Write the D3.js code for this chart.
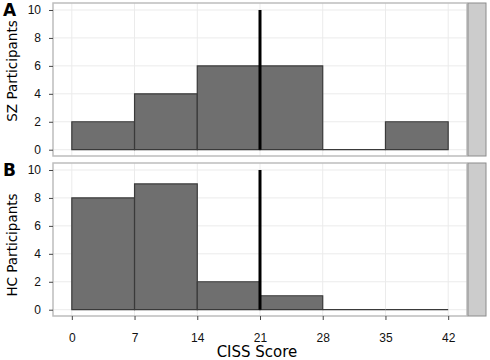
<!DOCTYPE html>
<html>
<head>
<meta charset="utf-8">
<style>
  body { margin: 0; background: #fff; }
  svg { font-family: 'DejaVu Sans', sans-serif; }
  .domain { display: none; }
</style>
</head>
<body>
<svg width="490" height="360"></svg>
<script src="https://d3js.org/d3.v7.min.js"></script>
<script>
// bin edges and counts
let binEdges = [0, 7, 14, 21, 28, 35, 42];
let szCounts = [2, 4, 6, 6, 0, 2];
let hcCounts = [8, 9, 2, 1, 0, 0];
let xTicks = [0, 7, 14, 21, 28, 35, 42];
let yTicks = [0, 2, 4, 6, 8, 10];
let cutoff = 21;

let panels = [
  { tag: 'A', title: 'SZ Participants', counts: szCounts, top: 3, mid: 71 },
  { tag: 'B', title: 'HC Participants', counts: hcCounts, top: 163, mid: 245 }
];

let svg = d3.select('svg');
let left = 53, right = 467, panelH = 153;

let x = d3.scaleLinear()
  .domain([-2.1, 44.1])
  .range([left, right]);

panels.forEach((p, i) => {
  let y = d3.scaleLinear()
    .domain([-0.45, 10.5])
    .range([p.top + panelH, p.top]);

  let g = svg.append('g');

  g.append('rect')
    .attr('x', left).attr('y', p.top)
    .attr('width', right - left).attr('height', panelH)
    .attr('fill', '#fff');

  // grid
  g.selectAll('.gx').data(xTicks).join('line')
    .attr('x1', d => x(d)).attr('x2', d => x(d))
    .attr('y1', p.top).attr('y2', p.top + panelH)
    .attr('stroke', '#ebebeb').attr('stroke-width', 1);
  g.selectAll('.gy').data(yTicks).join('line')
    .attr('x1', left).attr('x2', right)
    .attr('y1', d => y(d)).attr('y2', d => y(d))
    .attr('stroke', '#ebebeb').attr('stroke-width', 1);

  // bars (paths so empty bins still show as a line at 0)
  g.selectAll('.bar').data(p.counts).join('path')
    .attr('d', (d, j) => {
      let x0 = x(binEdges[j]), x1 = x(binEdges[j + 1]);
      return `M${x0},${y(0)}V${y(d)}H${x1}V${y(0)}Z`;
    })
    .attr('fill', '#6f6f6f')
    .attr('stroke', '#3a3a3a')
    .attr('stroke-width', 1.2);

  // cutoff line
  g.append('line')
    .attr('x1', x(cutoff)).attr('x2', x(cutoff))
    .attr('y1', y(10)).attr('y2', y(0))
    .attr('stroke', '#000').attr('stroke-width', 3);

  // panel border
  g.append('rect')
    .attr('x', left).attr('y', p.top)
    .attr('width', right - left).attr('height', panelH)
    .attr('fill', 'none').attr('stroke', '#bdbdbd').attr('stroke-width', 1.5);

  // strip
  g.append('rect')
    .attr('x', right + 1).attr('y', p.top)
    .attr('width', 18).attr('height', panelH)
    .attr('fill', '#cccccc').attr('stroke', '#8c8c8c').attr('stroke-width', 1);

  g.append('g')
    .attr('transform', `translate(${left},0)`)
    .call(d3.axisLeft(y).tickValues(yTicks).tickSize(4).tickPadding(8))
    .call(a => a.selectAll('text').attr('font-size', 12).attr('fill', '#111'))
    .call(a => a.selectAll('.tick line').attr('stroke', '#444'));

  if (i === 1) {
    g.append('g')
      .attr('transform', `translate(0,${p.top + panelH})`)
      .call(d3.axisBottom(x).tickValues(xTicks).tickSize(4).tickPadding(13))
      .call(a => a.selectAll('text').attr('font-size', 12).attr('fill', '#111'))
      .call(a => a.selectAll('.tick line').attr('stroke', '#444'));
  }

  g.append('text')
    .attr('x', 3).attr('y', p.top + 13)
    .attr('font-size', 17).attr('font-weight', 'bold')
    .text(p.tag);

  g.append('text')
    .attr('transform', `translate(17,${p.mid}) rotate(-90)`)
    .attr('text-anchor', 'middle')
    .attr('font-size', 13.5)
    .text(p.title);
});

svg.append('text')
  .attr('x', 257).attr('y', 357)
  .attr('text-anchor', 'middle')
  .attr('font-size', 15)
  .text('CISS Score');
</script>
</body>
</html>
